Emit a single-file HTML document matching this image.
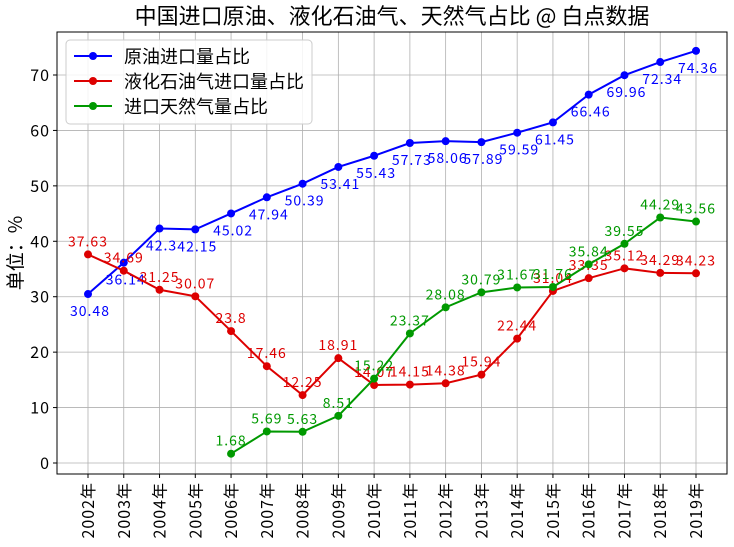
<!DOCTYPE html>
<html><head><meta charset="utf-8"><style>
body{margin:0;background:#fff;}
svg{font-family:"WenQuanYi Zen Hei","Noto Sans CJK SC",sans-serif;}
.num{font-family:"WenQuanYi Zen Hei","Noto Sans CJK SC",sans-serif;letter-spacing:1px;}
</style></head><body>
<svg id="chart" width="734" height="542"></svg>
<script>
const years=['2002年','2003年','2004年','2005年','2006年','2007年','2008年','2009年','2010年','2011年','2012年','2013年','2014年','2015年','2016年','2017年','2018年','2019年'];
const crude=[30.48,36.14,42.3,42.15,45.02,47.94,50.39,53.41,55.43,57.73,58.06,57.89,59.59,61.45,66.46,69.96,72.34,74.36];
const lpg=[37.63,34.69,31.25,30.07,23.8,17.46,12.25,18.91,14.07,14.15,14.38,15.94,22.44,31.04,33.35,35.12,34.29,34.23];
const gas=[null,null,null,null,1.68,5.69,5.63,8.51,15.22,23.37,28.08,30.79,31.67,31.76,35.84,39.55,44.29,43.56];
const yTicks=[0,10,20,30,40,50,60,70];
const NS='http://www.w3.org/2000/svg';
const svg=document.getElementById('chart');
const L=57,R=727,T=32,B=474;
const xs=i=>88+i*(696-88)/17;
const ys=v=>463-v*(463-75)/70;
function mk(tag,attrs,parent){const e=document.createElementNS(NS,tag);for(const k in attrs)e.setAttribute(k,attrs[k]);(parent||svg).appendChild(e);return e;}
yTicks.forEach(v=>{
 const g=mk('line',{x1:L,x2:R,y1:ys(v),y2:ys(v),stroke:'#b0b0b0','stroke-width':0.8});
 
 
 mk('line',{x1:L-4,x2:L,y1:ys(v),y2:ys(v),stroke:'#000'});
 const t=mk('text',{x:L-7,y:ys(v)+6,'text-anchor':'end','font-size':16,'class':'num'});
 t.textContent=v;
 
 
});
years.forEach((y,i)=>{
 const g=mk('line',{x1:xs(i),x2:xs(i),y1:T,y2:B,stroke:'#b0b0b0','stroke-width':0.8});
 
 
 mk('line',{x1:xs(i),x2:xs(i),y1:B,y2:B+4,stroke:'#000'});
 const t=mk('text',{x:xs(i)+6,y:B+8,'text-anchor':'end','font-size':16,'class':'num',transform:`rotate(-90 ${xs(i)+6} ${B+8})`});
 t.textContent=y;
 
 
});
const frame=mk('rect',{x:L,y:T,width:R-L,height:B-T,fill:'none',stroke:'#000'});


const title=mk('text',{x:392,y:24,'text-anchor':'middle','font-size':22});
title.textContent='中国进口原油、液化石油气、天然气占比 @ 白点数据';


const yt=mk('text',{x:22,y:253,'text-anchor':'middle','font-size':19,transform:'rotate(-90 22 253)'});
yt.textContent='单位：%';


function series(data,color,name,below){
 const pts=[];data.forEach((v,i)=>{if(v!=null)pts.push([xs(i),ys(v),v]);});
 const p=mk('polyline',{points:pts.map(p=>p[0]+','+p[1]).join(' '),fill:'none',stroke:color,'stroke-width':2});
 
 
 pts.forEach(q=>{
  const c=mk('circle',{cx:q[0],cy:q[1],r:4,fill:color});
  
  
  const t=mk('text',{x:below?q[0]+2:q[0],y:below?q[1]+22:q[1]-8,'text-anchor':'middle','font-size':14,fill:color,'class':'num'});
  t.textContent=q[2];
  
  
 });
}
series(crude,'#0000ff','crude',true);
series(lpg,'#dd0000','lpg',false);
series(gas,'#009900','gas',false);
const lg=mk('g',{});


mk('rect',{x:66,y:40,width:246,height:84,rx:4,fill:'#fff','fill-opacity':0.85,stroke:'#ccc'},lg);
[['原油进口量占比','#0000ff'],['液化石油气进口量占比','#dd0000'],['进口天然气量占比','#009900']].forEach((e,i)=>{
 const y=56+i*25;
 const g=mk('g',{},lg);
 
 
 mk('line',{x1:74,x2:112,y1:y,y2:y,stroke:e[1],'stroke-width':2},g);
 mk('circle',{cx:93,cy:y,r:4,fill:e[1]},g);
 const t=mk('text',{x:124,y:y+7,'font-size':18},g);
 t.textContent=e[0];
});
</script>
</body></html>
